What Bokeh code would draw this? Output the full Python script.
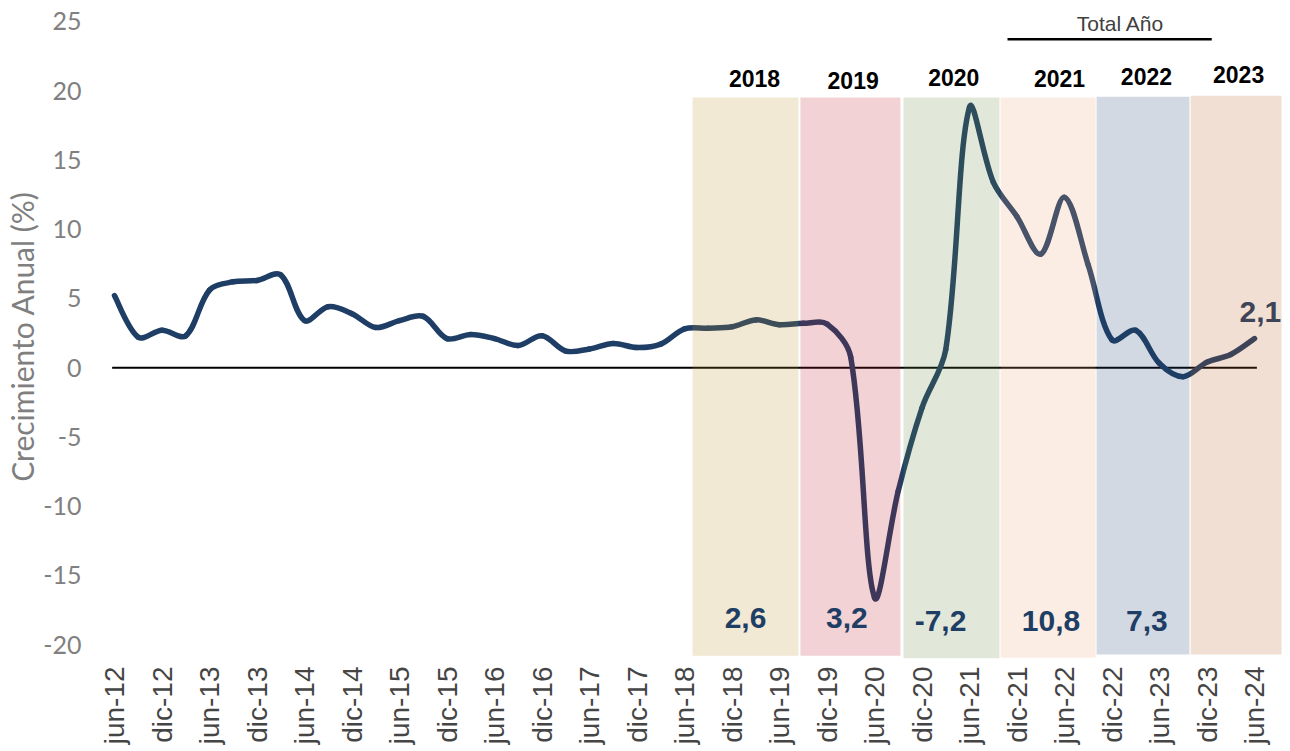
import math
from bokeh.plotting import figure
from bokeh.models import FixedTicker
from bokeh.core.properties import value
from bokeh.embed import file_html
from bokeh.resources import INLINE

# ---------------- data ----------------
tick_labels = ["jun-12", "dic-12", "jun-13", "dic-13", "jun-14", "dic-14", "jun-15",
               "dic-15", "jun-16", "dic-16", "jun-17", "dic-17", "jun-18", "dic-18",
               "jun-19", "dic-19", "jun-20", "dic-20", "jun-21", "dic-21", "jun-22",
               "dic-22", "jun-23", "dic-23", "jun-24"]
y_ticks = [-20, -15, -10, -5, 0, 5, 10, 15, 20, 25]
y_tick_labels = ["-20", "-15", "-10", "-5", "0", "5", "10", "15", "20", "25"]
# quarterly annual growth (%), jun-12 ... jun-24
growth = [5.2, 2.2, 2.7, 2.3, 5.6, 6.2, 6.3, 6.7, 3.4, 4.4, 3.9, 2.9,
          3.4, 3.7, 2.1, 2.4, 2.1, 1.6, 2.3, 1.2, 1.35, 1.75, 1.45, 1.7,
          2.8, 2.85, 2.95, 3.45, 3.1, 3.2, 3.15, 0.75, -16.6, -8.9, -2.9, 1.3,
          18.8, 13.4, 10.9, 8.2, 12.3, 7.4, 2.0, 2.7, 0.3, -0.65, 0.4, 0.95, 2.1]
years = ["2018", "2019", "2020", "2021", "2022", "2023"]
year_totals = ["2,6", "3,2", "-7,2", "10,8", "7,3"]
last_label = "2,1"
header = "Total Año"
y_title = "Crecimiento Anual (%)"

# ---------------- layout / style ----------------
band_left = [24.34, 28.88, 33.22, 37.31, 41.35, 45.31]
band_right = [28.80, 33.09, 37.26, 41.31, 45.26, 49.14]
band_top = [19.5, 19.5, 19.5, 19.5, 19.57, 19.64]
band_bottom = [-20.8, -20.8, -21.0, -20.94, -20.72, -20.72]
band_colors = ["#be912d", "#be1e2d", "#698c41", "#f0a578", "#1e416e", "#be5f23"]
year_x = [26.95, 31.1, 35.34, 39.79, 43.45, 47.33]
year_y = [20.87, 20.76, 20.96, 20.87, 21.03, 21.2]
total_x = [26.57, 30.84, 34.78, 39.43, 43.47]
total_y = [-18.1, -18.05, -18.3, -18.3, -18.3]
NAVY = "#1e3e65"
PX_X, PX_Y = 23.75, 13.85   # pixels per data unit (for smoothing weights)

FONT = value("Liberation Sans")

p = figure(width=1289, height=750,
           x_range=(-0.8, 49.305), y_range=(-21.0, 25.5),
           output_backend="svg", toolbar_location=None,
           min_border=0, min_border_left=95, min_border_top=14,
           min_border_right=4, min_border_bottom=92,
           background_fill_color="white", outline_line_color=None)
p.grid.visible = False

# ---- smoothed line (bezier segments, Excel-like smoothing) ----
xs = list(range(len(growth)))
n = len(growth)

def dist(i, j):
    return math.hypot((xs[j] - xs[i]) * PX_X, (growth[j] - growth[i]) * PX_Y)

def tangent(i):
    a = max(i - 1, 0)
    b = min(i + 1, n - 1)
    return (xs[b] - xs[a], growth[b] - growth[a])

x0, y0, x1, y1, cx0, cy0, cx1, cy1 = [], [], [], [], [], [], [], []
for i in range(n - 1):
    j = i + 1
    mx, my = tangent(i)
    dp = dist(i - 1, i) if i > 0 else dist(i, j)
    dn = dist(i, j)
    w = dn / (dp + dn) / 3.0
    c0x, c0y = xs[i] + mx * w, growth[i] + my * w
    mx2, my2 = tangent(j)
    dp2 = dist(i, j)
    dn2 = dist(j, j + 1) if j < n - 1 else dist(i, j)
    w2 = dp2 / (dp2 + dn2) / 3.0
    c1x, c1y = xs[j] - mx2 * w2, growth[j] - my2 * w2
    x0.append(xs[i]); y0.append(growth[i]); x1.append(xs[j]); y1.append(growth[j])
    cx0.append(c0x); cy0.append(c0y); cx1.append(c1x); cy1.append(c1y)

# zero line
p.segment(x0=[-0.1], y0=[0], x1=[48.1], y1=[0], line_color="black", line_width=2)

p.bezier(x0=x0, y0=y0, x1=x1, y1=y1, cx0=cx0, cy0=cy0, cx1=cx1, cy1=cy1,
         line_color=NAVY, line_width=5.5, line_cap="round")

# last value label (under the band overlay)
p.text(x=[48.25], y=[4.04], text=[last_label], text_font=FONT, text_font_style="bold",
       text_font_size="30px", text_color=NAVY, text_align="center", text_baseline="middle")

# translucent year bands on top of the line
p.quad(left=band_left, right=band_right, top=band_top, bottom=band_bottom,
       fill_color=band_colors, fill_alpha=0.2, line_color=None)

# year headers
p.text(x=year_x, y=year_y, text=years, text_font=FONT, text_font_style="bold",
       text_font_size="23px", text_color="black", text_align="center", text_baseline="middle")

# annual totals
p.text(x=total_x, y=total_y, text=year_totals, text_font=FONT, text_font_style="bold",
       text_font_size="30px", text_color=NAVY, text_align="center", text_baseline="middle")

# "Total Año" header with rule
p.text(x=[42.36], y=[24.84], text=[header], text_font=FONT, text_font_size="21px",
       text_color="#404040", text_align="center", text_baseline="middle")
p.segment(x0=[37.6], y0=[23.72], x1=[46.2], y1=[23.72], line_color="black", line_width=2.5)

# ---- axes ----
xa = p.xaxis[0]
xa.ticker = FixedTicker(ticks=list(range(0, 49, 2)))
xa.major_label_overrides = {i * 2: lab for i, lab in enumerate(tick_labels)}
xa.major_label_orientation = math.pi / 2
xa.axis_line_color = None
xa.major_tick_line_color = None
xa.minor_tick_line_color = None
xa.major_tick_out = 0
xa.major_label_standoff = 8
xa.major_label_text_font = "Liberation Sans"
xa.major_label_text_font_size = "28px"
xa.major_label_text_color = "#454545"

ya = p.yaxis[0]
ya.ticker = FixedTicker(ticks=y_ticks)
ya.major_label_overrides = dict(zip(y_ticks, y_tick_labels))
ya.axis_line_color = None
ya.major_tick_line_color = None
ya.minor_tick_line_color = None
ya.major_tick_out = 0
ya.major_label_standoff = 14
ya.major_label_text_font = "Lato"
ya.major_label_text_font_size = "25px"
ya.major_label_text_color = "#808080"
ya.axis_label = y_title
ya.axis_label_text_font = "Lato"
ya.axis_label_text_font_style = "normal"
ya.axis_label_text_font_size = "30px"
ya.axis_label_text_color = "#7f7f7f"
ya.axis_label_standoff = 0

open("out.html", "w").write(file_html(p, INLINE))
